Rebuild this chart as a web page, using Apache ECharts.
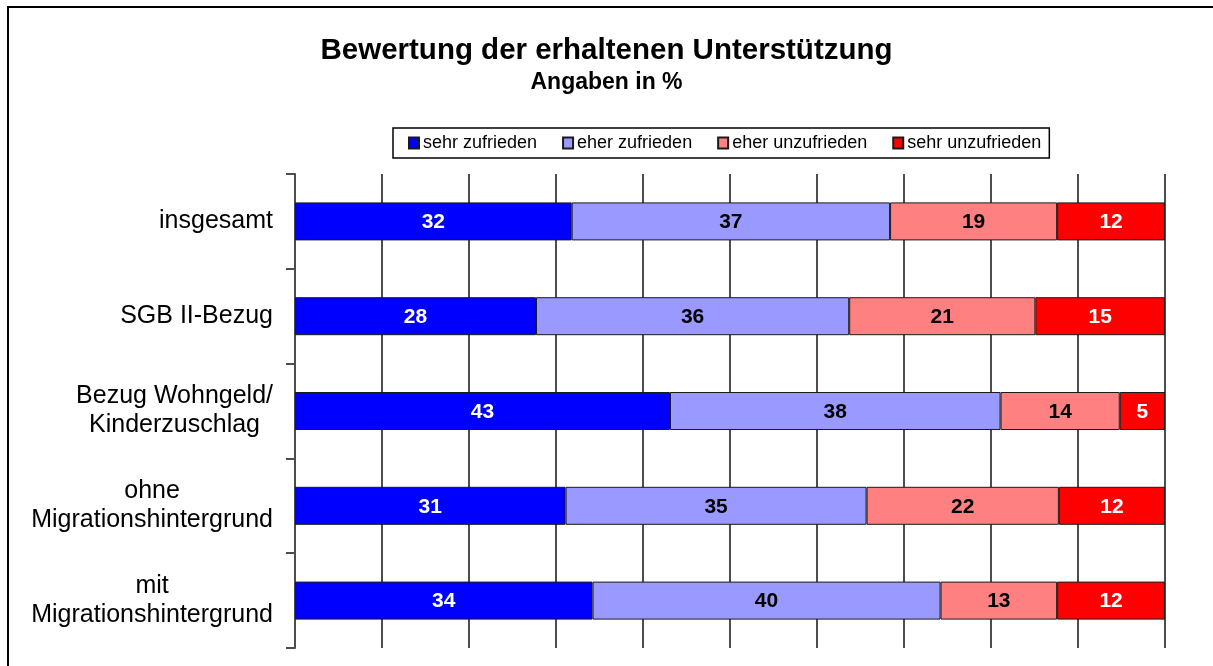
<!DOCTYPE html>
<html>
<head>
<meta charset="utf-8">
<script src="https://cdn.jsdelivr.net/npm/echarts@6/dist/echarts.min.js"></script>
<style>
  html, body { margin: 0; padding: 0; background: #fff; }
  #chart { width: 1213px; height: 666px; }
</style>
</head>
<body>
<div id="chart"></div>
<script>
// categories, top to bottom
const categories = [
  'insgesamt',
  'SGB II-Bezug',
  'Bezug Wohngeld/\nKinderzuschlag',
  'ohne\nMigrationshintergrund',
  'mit\nMigrationshintergrund'
];
// shares in % (labels show rounded values)
const sehrZufrieden = [31.8, 27.7, 43.1, 31.1, 34.2];
const eherZufrieden = [36.6, 36.0, 38.0, 34.6, 40.0];
const eherUnzufrieden = [19.2, 21.4, 13.7, 22.1, 13.4];
const sehrUnzufrieden = [12.4, 14.9, 5.2, 12.2, 12.4];

const seriesNames = ['sehr zufrieden', 'eher zufrieden', 'eher unzufrieden', 'sehr unzufrieden'];
const seriesData = [sehrZufrieden, eherZufrieden, eherUnzufrieden, sehrUnzufrieden];
const colors = ['#0000ff', '#9999ff', '#ff8080', '#ff0000'];
const labelColors = ['#ffffff', '#000000', '#000000', '#ffffff'];

const font = '"Liberation Sans", Arial, sans-serif';
const gridColor = '#4d4d4d';

let series = [];
for (let i = 0; i < seriesNames.length; i++) {
  series[i] = {
    name: seriesNames[i],
    type: 'bar',
    stack: 'total',
    barWidth: 38,
    data: seriesData[i],
    itemStyle: { color: colors[i], borderColor: '#1a1a1a', borderWidth: 1 },
    label: {
      show: true,
      position: 'inside',
      offset: [0, 1],
      color: labelColors[i],
      fontFamily: font,
      fontWeight: 'bold',
      fontSize: 21,
      formatter: p => Math.round(p.value)
    },
    emphasis: { disabled: true }
  };
}

const myChart = echarts.init(document.getElementById('chart'), null, { renderer: 'canvas' });
myChart.setOption({
  animation: false,
  graphic: [{
    type: 'rect',
    shape: { x: 8, y: 7, width: 1400, height: 900 },
    style: { fill: 'none', stroke: '#000', lineWidth: 2 },
    silent: true
  }],
  title: {
    text: 'Bewertung der erhaltenen Unterstützung',
    subtext: 'Angaben in %',
    left: 'center',
    top: 31,
    itemGap: 5,
    textStyle: { fontFamily: font, fontWeight: 'bold', fontSize: 29.5, color: '#000' },
    subtextStyle: { fontFamily: font, fontWeight: 'bold', fontSize: 23, color: '#000' }
  },
  legend: {
    data: seriesNames,
    left: 393,
    top: 128,
    icon: 'rect',
    itemWidth: 10,
    itemHeight: 11,
    itemGap: 25,
    padding: [6, 8, 6, 15],
    borderColor: '#000',
    borderWidth: 1.5,
    textStyle: { fontFamily: font, fontSize: 18, color: '#000', padding: [1, 0, 0, -1] }
  },
  grid: { left: 295, right: 48, top: 174, bottom: 18, containLabel: false },
  xAxis: {
    type: 'value',
    min: 0,
    max: 100,
    interval: 10,
    axisLabel: { show: false },
    axisLine: { show: false },
    axisTick: { show: false },
    splitLine: { show: true, lineStyle: { color: gridColor, width: 2 } }
  },
  yAxis: {
    type: 'category',
    inverse: true,
    data: categories,
    axisLine: { show: true, lineStyle: { color: gridColor, width: 2 } },
    axisTick: { show: true, length: 9, lineStyle: { color: gridColor, width: 2 } },
    axisLabel: {
      margin: 22,
      align: 'right',
      formatter: v => v.split('\n').map(s => '{c|' + s + '}').join('\n'),
      rich: {
        c: { fontFamily: font, fontSize: 25, color: '#000', align: 'center', lineHeight: 29 }
      }
    }
  },
  series: series
});
</script>
</body>
</html>
